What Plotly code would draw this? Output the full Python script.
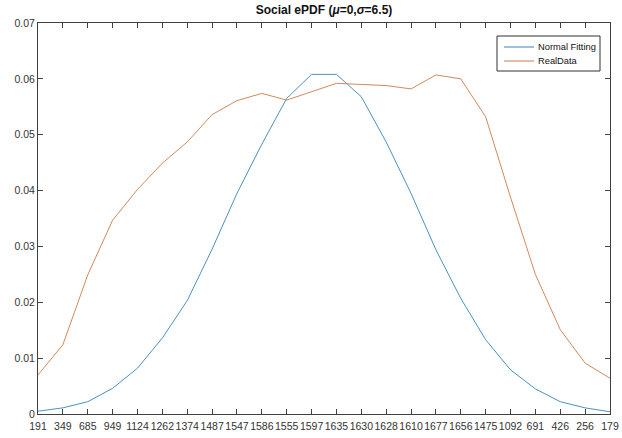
import plotly.graph_objects as go

# Category labels along the x axis (kept as text so order is preserved)
categories = ["191", "349", "685", "949", "1124", "1262", "1374", "1487",
              "1547", "1586", "1555", "1597", "1635", "1630", "1628", "1610",
              "1677", "1656", "1475", "1092", "691", "426", "256", "179"]

normal_fitting = [0.0005, 0.0011, 0.0022, 0.0046, 0.0082, 0.0136, 0.0203, 0.0295,
                  0.0395, 0.0483, 0.0565, 0.0608, 0.0608, 0.0568, 0.0487, 0.0395,
                  0.0294, 0.0207, 0.0133, 0.0079, 0.0045, 0.0022, 0.0011, 0.0004]

real_data = [0.0070, 0.0124, 0.0249, 0.0347, 0.0402, 0.0449, 0.0487, 0.0536,
             0.0561, 0.0574, 0.0562, 0.0577, 0.0592, 0.0590, 0.0588, 0.0582,
             0.0607, 0.0600, 0.0532, 0.0388, 0.0250, 0.0151, 0.0091, 0.0064]

y_ticks = [0, 0.01, 0.02, 0.03, 0.04, 0.05, 0.06, 0.07]
y_tick_text = ["0", "0.01", "0.02", "0.03", "0.04", "0.05", "0.06", "0.07"]

series_names = ["Normal Fitting", "RealData"]
series_colors = ["#3583bb", "#cd7a4c"]

W, H = 622, 438
M_L, M_R, M_T, M_B = 38, 12, 23, 24
axis_color = "#404040"
font_family = "Liberation Sans, Arial, sans-serif"


def px_to_paper(px, py):
    """Convert page pixel position to paper coordinates of the plot area."""
    pw = W - M_L - M_R
    ph = H - M_T - M_B
    return (px - M_L) / pw, (H - M_B - py) / ph


fig = go.Figure()
for name, vals, color in zip(series_names, [normal_fitting, real_data], series_colors):
    fig.add_trace(go.Scatter(x=categories, y=vals, mode="lines", name=name,
                             line=dict(color=color, width=0.9), showlegend=False))

# Boxed legend in the upper-right corner, drawn compactly
shapes = []
annotations = []
bx0, by0 = px_to_paper(497, 36)
bx1, by1 = px_to_paper(600, 71)
shapes.append(dict(type="rect", xref="paper", yref="paper",
                   x0=bx0, x1=bx1, y0=by1, y1=by0,
                   line=dict(color="#303030", width=1), fillcolor="white",
                   layer="above"))
for i, (name, color) in enumerate(zip(series_names, series_colors)):
    cy = 47 + 14 * i
    lx0, ly = px_to_paper(504, cy)
    lx1, _ = px_to_paper(534, cy)
    shapes.append(dict(type="line", xref="paper", yref="paper",
                       x0=lx0, x1=lx1, y0=ly, y1=ly,
                       line=dict(color=color, width=1), layer="above"))
    tx, _ = px_to_paper(536, cy)
    annotations.append(dict(text=name, xref="paper", yref="paper",
                            x=tx, y=ly, xanchor="left", yanchor="middle",
                            showarrow=False,
                            font=dict(size=9.3, color="#111111")))

fig.update_layout(
    width=W, height=H,
    margin=dict(l=M_L, r=M_R, t=M_T, b=M_B, autoexpand=False),
    paper_bgcolor="white", plot_bgcolor="white",
    font=dict(family=font_family, size=10.5, color="#333333"),
    title=dict(text="<b>Social ePDF (<i>μ</i>=0,<i>σ</i>=6.5)</b>",
               x=(M_L + (W - M_L - M_R) / 2) / W, xanchor="center",
               y=1 - 10 / H, yanchor="middle",
               font=dict(size=12, color="#111111")),
    showlegend=False,
    shapes=shapes,
    annotations=annotations,
    xaxis=dict(type="category", range=[0, 23], automargin=False,
               tickmode="array", tickvals=categories, ticktext=categories,
               showgrid=False, zeroline=False,
               showline=True, linecolor=axis_color, linewidth=1, mirror="ticks",
               ticks="inside", ticklen=5, tickcolor=axis_color,
               tickangle=0, ticklabelstandoff=2, tickfont=dict(size=10.5)),
    yaxis=dict(range=[0, 0.07], automargin=False, tickmode="array",
               tickvals=y_ticks, ticktext=y_tick_text,
               showgrid=False, zeroline=False,
               showline=True, linecolor=axis_color, linewidth=1, mirror="ticks",
               ticks="inside", ticklen=5, tickcolor=axis_color,
               tickfont=dict(size=10.5)),
)

fig.write_html("out.html")
